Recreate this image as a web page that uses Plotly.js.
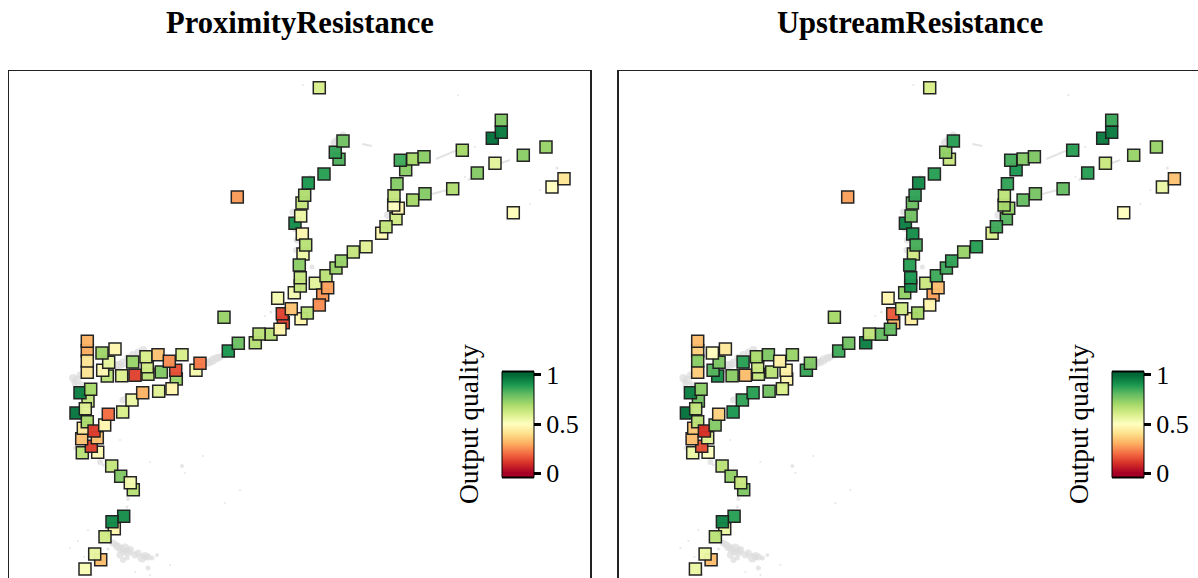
<!DOCTYPE html>
<html>
<head>
<meta charset="utf-8">
<script src="https://cdn.plot.ly/plotly-3.0.1.min.js"></script>
<style>html,body{margin:0;padding:0;background:#fff;overflow:hidden}#chart{width:1198px;height:578px}</style>
</head>
<body>
<div id="chart"></div>
<script>
var panelTitles = ["ProximityResistance", "UpstreamResistance"];
var colorTitle = "Output quality";
var tickValues = [0, 0.5, 1];
var tickLabels = ["0", "0.5", "1"];
var qualityStops = [0, 0.1, 0.2, 0.3, 0.4, 0.5, 0.6, 0.7, 0.8, 0.9, 1];
var qualityColors = ["#a50026","#d73027","#f46d43","#fdae61","#fee08b","#ffffbf","#d9ef8b","#a6d96a","#66bd63","#1a9850","#006837"];

var mapX = [87.3,87.3,87.3,87.3, 107.3,102.7,108.7, 115,102, 148,147.3,146, 121.7,132.7,135,161.3,158, 176.3,175.7,169.3,182, 196,200,
  97.7,82.3,91.3,81.7,97.3,83.3,76,88,85.3,87.3,94,104.7,108.3,80,90.7, 122.7,132,142.7,158.7,172,
  111.7,133.3,120.7,130.3, 114.3,105,123.7,112, 100.7,94.7,85,
  295,300.7,302.3,303,305.7,294.3,300.3,300.3,299.3, 315.3,326,322.7,327.7, 301,319.3,307.3,
  255.3,271,259,283.3,280,282.3,291.3,277.7, 228.3,238.3,224, 336,341.3,353.3,366,
  381.7,396,386,398.3,393.7,394,397,
  319.3,302,304.7,308.3,324,339,335.3,343, 405.7,412.7,424,400.3, 412.7,425,452.7,477.3,495,523.3,546,462.3,492.3,501.3,501.3,552,564,513.3,237.3];
var mapY = [350.7,372.3,361,341.3, 376,370.3,362.3, 349,353, 374.3,366.7,356.7, 375.7,362,375.3,372,354.7, 379,370.3,361.3,354.7, 370.3,363.3,
  452.3,452.7,446.3,438.7,437.7,428.3,413,401,408.7,421.7,431,425,414.3,392.7,389.3, 412,400,392.7,391.3,388.7,
  466,489.7,476.3,482.7, 528.7,536.7,516.3,521.7, 559.7,554,569,
  223.3,216,234,254,245,292.7,286,277.7,265, 283.3,275.7,295,287.7, 318.7,305,313,
  342.7,334.3,334,322.7,329.3,313.7,308.7,298.3, 351,343.3,317.3, 268,261,252,246.7,
  233.3,218.7,226.7,208.3,205,195.7,183.7,
  87.7,203,195.3,183,174,159.3,152.3,141, 169.7,159,156.7,160.3, 200,193.7,188.7,173,163.3,155.3,147,150.3,138.3,120.3,132.3,187,178.7,212.7,197];
var proximityQuality = [0.3,0.42,0.42,0.31, 0.66,0.48,0.56, 0.47,0.71, 0.66,0.62,0.6, 0.59,0.72,0.13,0.76,0.34, 0.72,0.15,0.25,0.6, 0.53,0.22,
  0.48,0.66,0.13,0.34,0.34,0.43,0.97,0.64,0.58,0.69,0.12,0.47,0.2,0.95,0.7, 0.6,0.55,0.31,0.58,0.47,
  0.64,0.66,0.76,0.53, 0.47,0.62,0.92,0.93, 0.33,0.56,0.52,
  0.92,0.55,0.47,0.55,0.66,0.53,0.64,0.64,0.74, 0.57,0.66,0.26,0.28, 0.47,0.25,0.66,
  0.67,0.67,0.66,0.13,0.47,0.13,0.34,0.53, 0.9,0.79,0.72, 0.72,0.72,0.64,0.58,
  0.48,0.62,0.64,0.47,0.5,0.64,0.75,
  0.6,0.64,0.68,0.9,0.88,0.83,0.87,0.78, 0.74,0.7,0.74,0.85, 0.7,0.75,0.68,0.75,0.57,0.74,0.72,0.7,0.98,0.76,0.96,0.5,0.42,0.49,0.27];
var upstreamQuality = [0.37,0.36,0.74,0.33, 0.92,0.82,0.76, 0.43,0.5, 0.64,0.63,0.69, 0.74,0.88,0.33,0.66,0.76, 0.47,0.46,0.45,0.72, 0.86,0.76,
  0.5,0.55,0.15,0.33,0.58,0.35,0.98,0.78,0.64,0.66,0.1,0.75,0.37,0.95,0.74, 0.9,0.87,0.88,0.78,0.6,
  0.66,0.76,0.73,0.63, 0.55,0.66,0.88,0.94, 0.33,0.55,0.55,
  0.95,0.78,0.92,0.62,0.84,0.73,0.92,0.9,0.88, 0.63,0.85,0.28,0.33, 0.45,0.47,0.7,
  0.95,0.8,0.65,0.32,0.8,0.17,0.62,0.47, 0.85,0.78,0.7, 0.85,0.87,0.72,0.88,
  0.6,0.82,0.85,0.72,0.7,0.65,0.87,
  0.6,0.79,0.87,0.93,0.88,0.63,0.73,0.88, 0.9,0.75,0.76,0.84, 0.8,0.77,0.8,0.88,0.63,0.72,0.72,0.88,0.96,0.86,0.96,0.55,0.34,0.5,0.28];

var arcX = [436,447,455,465,null,432,447,null,468,480,null,490,510,null,372,362];
var arcY = [159,154,151,148,null,194,190,null,180,175,null,167,160,null,146,144];
var landX = [113,116,118,121,125,128,130,120,124,135,138,142,145,148,152,157,148,123,127,108,128,127,
  73,75,77,80,82,115,117,120,123,128,133,138,143,150,207,210,213,217,220,224,227,
  123,127,100,103,75,293,294,295,297,296,335,338,343,310,388,392,312,265,271,
  182,185,203,225,475,507,465,530,540,557,303,458,70,84,92,78,150,170,240,120,150,135,88];
var landY = [543,545,547,549,548,552,550,555,552,555,553,558,556,557,558,555,568,560,558,549,499,507,
  378,383,380,375,385,370,365,365,363,358,355,352,350,353,363,362,360,358,357,355,353,
  400,396,462,465,448,212,220,228,240,250,143,140,135,177,215,210,267,316,312,
  466,473,456,503,147,161,177,204,190,168,85,95,548,557,575,541,575,565,490,440,462,572,530];
var landSize = [7,7,8,8,9,9,8,7,7,7,7,9,8,7,5,4,5,6,5,3,4,3,
  8,7,9,7,7,7,8,8,9,8,8,7,8,6,8,8,9,8,7,7,5,
  7,6,6,3,4,7,8,8,7,6,9,8,7,4,8,4,5,2,3,
  4,2,2,2,2,2,2,2,2,3,2,2,2,2,2,2,2,2,2,2,2,2,2];

var cMin = -0.04, cMax = 1.03;
var colorscale = qualityStops.map(function (s, i) { return [(s - cMin) / (cMax - cMin), qualityColors[i]]; });
colorscale.unshift([0, qualityColors[0]]);
colorscale.push([1, qualityColors[10]]);

var W = 1198, H = 578;
var fx = function (p) { return p / W; }, fy = function (p) { return (H - p) / H; };
var serif = "Liberation Serif, Times New Roman, serif";
var panelShift = [0, 610];
var traces = [], annotations = [], shapes = [];

panelTitles.forEach(function (title, k) {
  var xa = k ? "x2" : "x", ya = k ? "y2" : "y";
  traces.push({x: arcX, y: arcY, xaxis: xa, yaxis: ya, mode: "lines", hoverinfo: "skip", showlegend: false,
    line: {color: "#e4e4e4", width: 2}});
  traces.push({x: landX, y: landY, xaxis: xa, yaxis: ya, mode: "markers", hoverinfo: "skip", showlegend: false,
    marker: {color: "#dcdcdc", size: landSize, line: {width: 0}}});
  traces.push({x: mapX, y: mapY, xaxis: xa, yaxis: ya, mode: "markers", showlegend: false,
    marker: {symbol: "square", size: 12, color: k ? upstreamQuality : proximityQuality, cmin: cMin, cmax: cMax,
      colorscale: colorscale, opacity: 0.97, line: {color: "#1e1e1e", width: 1.5},
      colorbar: {x: fx(502 + panelShift[k]), xanchor: "left", xpad: 0, y: fy(477), yanchor: "bottom", ypad: 0,
        thickness: 32, len: 105, lenmode: "pixels", outlinewidth: 1, outlinecolor: "#000",
        tickmode: "array", tickvals: tickValues, ticktext: tickLabels, ticks: "outside", ticklen: 7, tickwidth: 3, tickcolor: "#000",
        tickfont: {family: serif, size: 26, color: "#000"}}}});
  annotations.push({xref: "paper", yref: "paper", x: fx(300 + 610 * k), y: fy(23), text: "<b>" + title + "</b>", showarrow: false,
    xanchor: "center", yanchor: "middle", font: {family: serif, size: 30.6, color: "#000"}});
  annotations.push({xref: "paper", yref: "paper", x: fx(468 + panelShift[k]), y: fy(424), text: colorTitle, showarrow: false, textangle: -90,
    xanchor: "center", yanchor: "middle", font: {family: serif, size: 27.5, color: "#000"}});
  [372, 477].forEach(function (p) {
    shapes.push({type: "line", xref: "paper", yref: "paper", x0: fx(502 + panelShift[k]), x1: fx(534 + panelShift[k]), y0: fy(p), y1: fy(p), line: {color: "#000", width: 3}});
  });
});

var yDomain = [0, fy(71)];
var axisBase = {showgrid: false, zeroline: false, showticklabels: false, ticks: "", showline: true, linecolor: "#222", linewidth: 1.5};
var layout = {
  width: W, height: H, margin: {l: 0, r: 0, t: 0, b: 0}, paper_bgcolor: "#fff", plot_bgcolor: "#fff",
  annotations: annotations, shapes: shapes, showlegend: false,
  xaxis: Object.assign({}, axisBase, {domain: [fx(9), fx(590)], range: [9, 590], side: "top", anchor: "y"}),
  yaxis: Object.assign({}, axisBase, {domain: yDomain, range: [578, 71], anchor: "x", mirror: true}),
  xaxis2: Object.assign({}, axisBase, {domain: [fx(618.5), 1], range: [8.1, 587.6], side: "top", anchor: "y2"}),
  yaxis2: Object.assign({}, axisBase, {domain: yDomain, range: [578, 71], anchor: "x2"})
};
Plotly.newPlot("chart", traces, layout, {displayModeBar: false, staticPlot: true});
</script>
</body>
</html>
